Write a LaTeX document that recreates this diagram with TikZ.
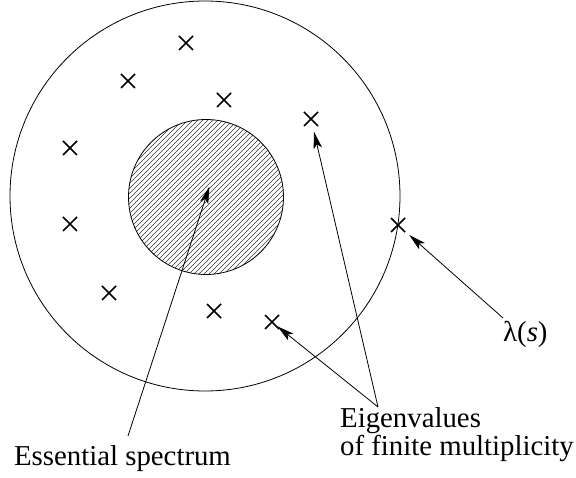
\documentclass[tikz,border=0pt]{standalone}
\usepackage{fontspec}
\setmainfont{Liberation Serif}
\usetikzlibrary{shapes.misc,arrows.meta,calc}
\tikzset{
  evx/.style={cross out,draw,line width=1.5pt,minimum size=12.5pt,inner sep=0pt},
  ring/.style={line width=0.8pt},
  hatch/.style={line width=0.55pt,black!80},
  arr/.style={line width=0.8pt,-{Stealth[length=17pt,width=8.5pt,inset=4pt]}},
  lbl/.style={inner sep=0pt,font=\rmfamily\fontsize{28.8}{28}\selectfont}
}
\begin{document}
\begin{tikzpicture}[x=1pt,y=-1pt]
\useasboundingbox (0,0) rectangle (576,478);
% outer disc
\node[circle,draw,ring,minimum size=390pt,inner sep=0pt] (outer) at (205,196) {};
% essential spectrum (hatched disc)
\begin{scope}
  \clip (206,197) circle (77.5);
  \foreach \i in {-45,...,45} \draw[hatch] ({206+\i*5-110},{197+110}) -- ++(220,-220);
\end{scope}
\node[circle,draw,ring,minimum size=155pt,inner sep=0pt] (ess) at (206,197) {};
% eigenvalues
\node[evx] (x1) at (186,43) {};
\node[evx] (x2) at (128,81) {};
\node[evx] (x3) at (224,100) {};
\node[evx] (x4) at (311,119) {};
\node[evx] (x5) at (70,148) {};
\node[evx] (x6) at (70,224) {};
\node[evx] (x7) at (398,225) {};
\node[evx] (x8) at (109,293) {};
\node[evx] (x9) at (214,311) {};
\node[evx] (x10) at (272,322) {};
% labels
\node[lbl,anchor=base] (esslbl) at (122.5,465) {Essential spectrum};
\node[lbl,anchor=north west,align=left] (eiglbl) at (340,407.3) {Eigenvalues\\of finite multiplicity};
\node[lbl,anchor=base west] (lam) at (503,342) {λ(\textit{s})};
% arrow start points
\coordinate (essfrom) at (128,436);
\coordinate (eigfrom) at (378,407);
\coordinate (lamfrom) at (503,318);
% connectors
\draw[arr] (essfrom) -- ($(ess.center)!-11pt!(essfrom)$);
\draw[arr] (eigfrom) -- ($(x4)!13pt!(eigfrom)$);
\draw[arr] (eigfrom) -- ($(x10)!7pt!(eigfrom)$);
\draw[arr] (lamfrom) -- ($(x7)!15pt!(lamfrom)$);
\end{tikzpicture}
\end{document}
